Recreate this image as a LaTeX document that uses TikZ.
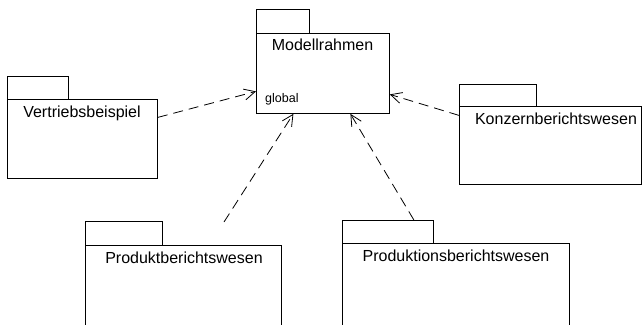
\documentclass[tikz,border=0pt]{standalone}
\usepackage{fontspec}
\setmainfont{Liberation Sans}
\usetikzlibrary{arrows.meta}
\begin{document}
\begin{tikzpicture}[x=1pt,y=-1pt,
  pkgbox/.style={draw,line width=0.8pt,inner sep=0pt,anchor=north west,fill=white},
  pkgname/.style={anchor=base,inner sep=0pt,font=\fontsize{16}{19}\selectfont},
  dep/.style={line width=0.8pt,dash pattern=on 10pt off 6pt,
    -{Straight Barb[length=11pt,width=11pt,line width=0.8pt]}}]
\useasboundingbox (0,0) rectangle (642,324);
\clip (0,0) rectangle (642,324);
% Modellrahmen package
\node[pkgbox,minimum width=53pt,minimum height=24pt] (mrtab) at (256,9) {};
\node[pkgbox,minimum width=133pt,minimum height=80pt] (mr) at (256,33) {};
\node[pkgname] (mrname) at (322.5,50) {Modellrahmen};
\node[anchor=base west,inner sep=0pt,font=\fontsize{12.5}{15}\selectfont] (mrglobal) at (265,102) {global};
% Vertriebsbeispiel package
\node[pkgbox,minimum width=61pt,minimum height=23pt] (vbtab) at (7,76) {};
\node[pkgbox,minimum width=150pt,minimum height=79pt] (vb) at (7,99) {};
\node[pkgname] (vbname) at (82,117) {Vertriebsbeispiel};
% Konzernberichtswesen package
\node[pkgbox,minimum width=77pt,minimum height=22pt] (kztab) at (459,84) {};
\node[pkgbox,minimum width=182pt,minimum height=78pt] (kz) at (459,106) {};
\node[pkgname] (kzname) at (556,124) {Konzernberichtswesen};
% Produktberichtswesen package
\node[pkgbox,minimum width=77pt,minimum height=24pt] (pbtab) at (85,221) {};
\node[pkgbox,minimum width=196pt,minimum height=100pt] (pb) at (85,245) {};
\node[pkgname] (pbname) at (184,263) {Produktberichtswesen};
% Produktionsberichtswesen package
\node[pkgbox,minimum width=91pt,minimum height=23pt] (pntab) at (342,220) {};
\node[pkgbox,minimum width=227pt,minimum height=100pt] (pn) at (342,243) {};
\node[pkgname] (pnname) at (456,261) {Produktionsberichtswesen};
% free end of the Produktberichtswesen dependency
\coordinate (pbdep) at (224,222);
% dependencies on Modellrahmen
\draw[dep] ([yshift=21.5pt]vb.east) -- ([yshift=-18pt]mr.west);
\draw[dep] ([yshift=30pt]kz.west) -- ([yshift=-21pt]mr.east);
\draw[dep] (pbdep) -- ([xshift=-29.5pt]mr.south);
\draw[dep] ([xshift=26pt]pntab.north) -- ([xshift=27.5pt]mr.south);
\end{tikzpicture}
\end{document}
